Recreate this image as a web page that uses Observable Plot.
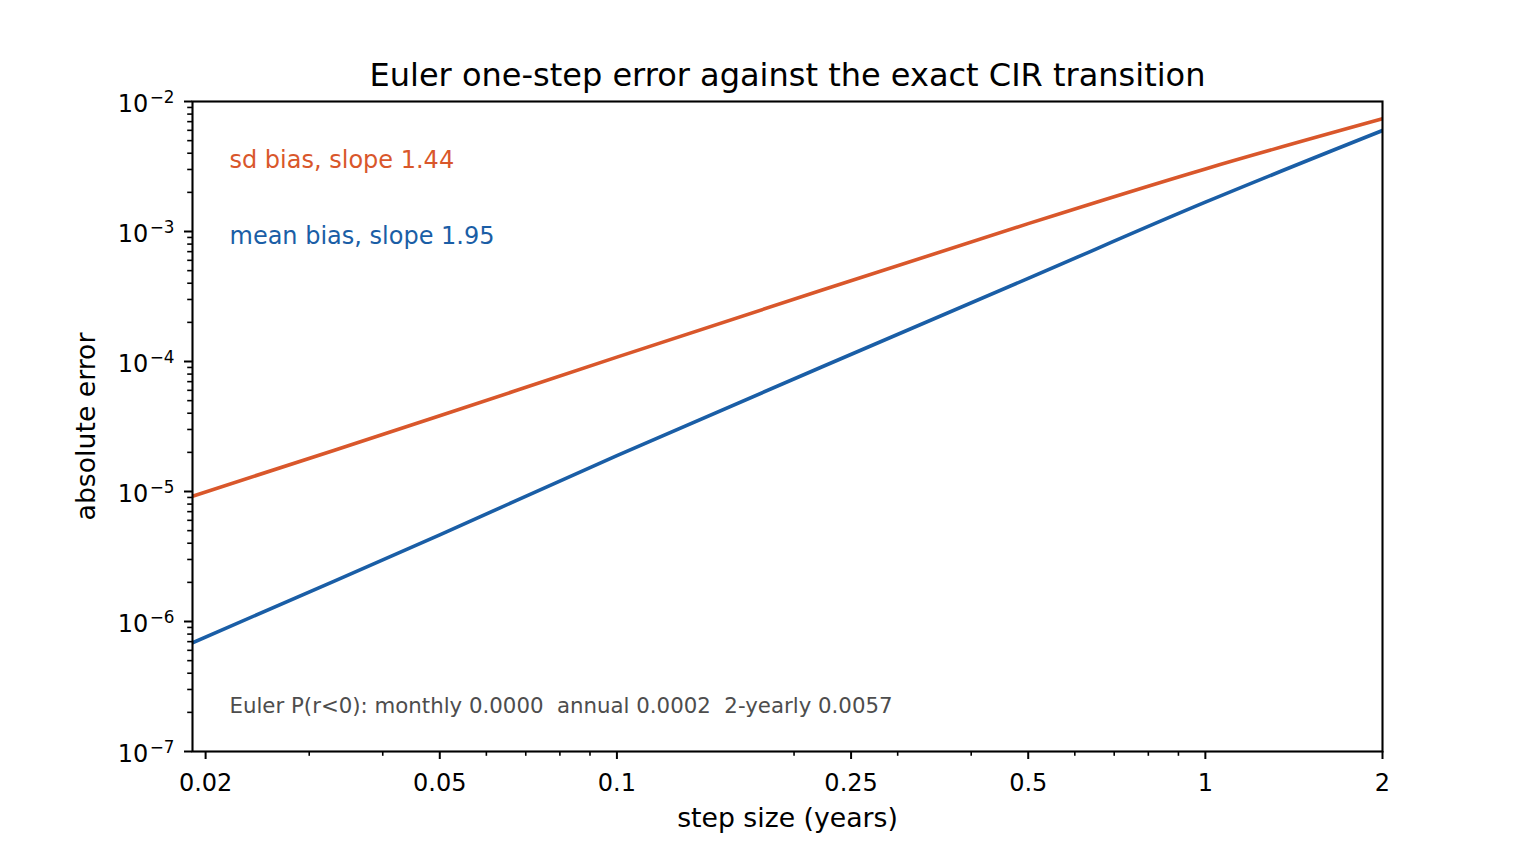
<!DOCTYPE html>
<html>
<head>
<meta charset="utf-8">
<script src="https://cdn.jsdelivr.net/npm/d3@7"></script>
<script src="https://cdn.jsdelivr.net/npm/@observablehq/plot@0.6"></script>
<style>
  html, body { margin: 0; padding: 0; background: #fff; }
  svg { display: block; }
</style>
</head>
<body>
<div id="chart"></div>
<script>
// ---- data ----
const steps = [0.019, 0.05, 0.1, 0.5, 1, 2];
const sdBias = [9.2e-6, 3.82e-5, 1.08e-4, 1.15e-3, 3.03e-3, 7.36e-3];
const meanBias = [6.86e-7, 4.64e-6, 1.89e-5, 4.36e-4, 1.68e-3, 5.98e-3];

const xMajorTicks = [0.02, 0.05, 0.1, 0.25, 0.5, 1, 2];
const xTickLabels = ["0.02", "0.05", "0.1", "0.25", "0.5", "1", "2"];
const xMinorTicks = [0.03, 0.04, 0.06, 0.07, 0.08, 0.09, 0.2, 0.3, 0.4, 0.6, 0.7, 0.8, 0.9];
const yExponents = [-7, -6, -5, -4, -3, -2];

const titleText = "Euler one-step error against the exact CIR transition";
const xLabel = "step size (years)";
const yLabel = "absolute error";
const sdLabel = "sd bias, slope 1.44";
const meanLabel = "mean bias, slope 1.95";
const noteText = "Euler P(r<0): monthly 0.0000  annual 0.0002  2-yearly 0.0057";

const ORANGE = "#d9572b";
const BLUE = "#1a5ea6";

// ---- derived tables ----
const sdRows = steps.map((s, i) => ({step: s, err: sdBias[i]}));
const meanRows = steps.map((s, i) => ({step: s, err: meanBias[i]}));
const yMajor = yExponents.map(e => Math.pow(10, e));
const yMinor = [];
for (const e of yExponents.slice(0, -1)) for (let k = 2; k <= 9; k++) yMinor.push(k * Math.pow(10, e));

const FONT = "DejaVu Sans, sans-serif";

const chart = Plot.plot({
  width: 1536,
  height: 844,
  marginTop: 101,
  marginLeft: 192,
  marginRight: 154,
  marginBottom: 93,
  style: {fontFamily: FONT, background: "#fff", color: "#000"},
  x: {type: "log", domain: [0.019, 2]},
  y: {type: "log", domain: [1e-7, 1e-2]},
  marks: [
    Plot.line(sdRows, {x: "step", y: "err", stroke: ORANGE, strokeWidth: 3.6, curve: "catmull-rom", clip: true}),
    Plot.line(meanRows, {x: "step", y: "err", stroke: BLUE, strokeWidth: 3.6, curve: "catmull-rom", clip: true}),
    Plot.frame({stroke: "#000", strokeWidth: 2.1}),
    // x axis
    Plot.axisX(xMinorTicks, {tickSize: 4.8, strokeWidth: 1.6, tickFormat: () => "", label: null}),
    Plot.axisX(xMajorTicks, {tickSize: 8, strokeWidth: 2, tickPadding: 14,
      tickFormat: d => xTickLabels[xMajorTicks.indexOf(d)], fontSize: 24, label: null}),
    // y axis
    Plot.axisY(yMinor, {tickSize: 4.8, strokeWidth: 1.6, tickFormat: () => "", label: null}),
    Plot.axisY(yMajor, {tickSize: 8, strokeWidth: 2, tickPadding: 10,
      tickFormat: d => "10^" + Math.round(Math.log10(d)), fontSize: 24, label: null}),
    // titles and labels
    Plot.text([titleText], {frameAnchor: "top", dy: -26, fontSize: 32, lineAnchor: "middle", textAnchor: "middle", fill: "#000"}),
    Plot.text([xLabel], {frameAnchor: "bottom", dy: 67, fontSize: 26.7, lineAnchor: "middle", textAnchor: "middle", fill: "#000"}),
    Plot.text([yLabel], {frameAnchor: "left", dx: -106, rotate: -90, fontSize: 26.7, lineAnchor: "middle", textAnchor: "middle", fill: "#000"}),
    // annotations
    Plot.text([sdLabel], {frameAnchor: "top-left", dx: 37, dy: 59, textAnchor: "start", lineAnchor: "middle", fontSize: 24, fill: ORANGE}),
    Plot.text([meanLabel], {frameAnchor: "top-left", dx: 37, dy: 135, textAnchor: "start", lineAnchor: "middle", fontSize: 24, fill: BLUE}),
    Plot.text([noteText], {frameAnchor: "bottom-left", dx: 37, dy: -45, textAnchor: "start", lineAnchor: "middle", fontSize: 21.3, fill: "#4d4d4d"})
  ]
});

// render y tick labels as 10 with superscript exponent
chart.querySelectorAll("text").forEach(t => {
  const s = t.textContent;
  const m = /^10\^(-?\d+)$/.exec(s);
  if (m) {
    const exp = m[1].replace("-", "\u2212");
    t.textContent = "";
    const base = document.createElementNS("http://www.w3.org/2000/svg", "tspan");
    base.textContent = "10";
    base.setAttribute("dy", "2.8");
    const sup = document.createElementNS("http://www.w3.org/2000/svg", "tspan");
    sup.textContent = exp;
    sup.setAttribute("font-size", "16.8");
    sup.setAttribute("dy", "-8.5");
    sup.setAttribute("dx", "1.5");
    t.appendChild(base);
    t.appendChild(sup);
  }
});

document.getElementById("chart").appendChild(chart);
</script>
</body>
</html>
